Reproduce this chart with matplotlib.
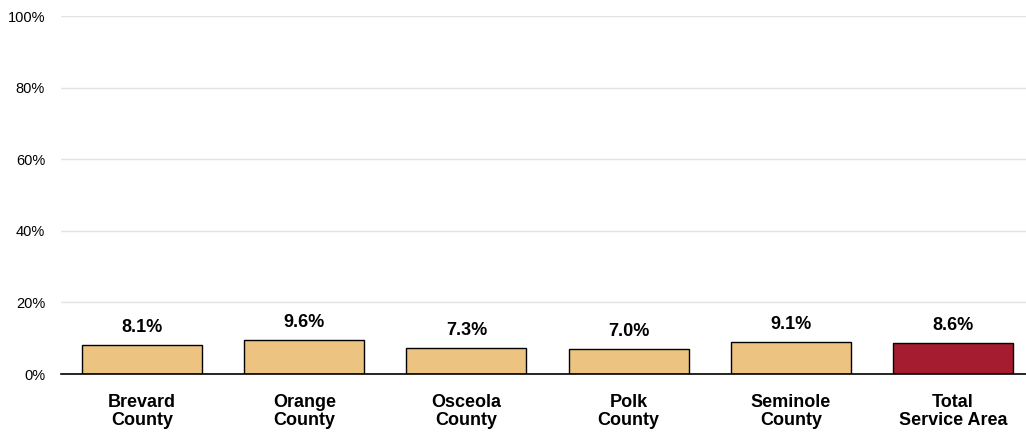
import matplotlib
matplotlib.use("Agg")
import matplotlib.pyplot as plt
from matplotlib.ticker import FuncFormatter

categories = ["Brevard\nCounty", "Orange\nCounty", "Osceola\nCounty", "Polk\nCounty", "Seminole\nCounty", "Total\nService Area"]
values = [8.1, 9.6, 7.3, 7.0, 9.1, 8.6]
value_labels = ["8.1%", "9.6%", "7.3%", "7.0%", "9.1%", "8.6%"]
colors = ["#EDC382"] * 5 + ["#A51C30"]
yticks = [0, 20, 40, 60, 80, 100]

plt.rcParams['font.family'] = ['Liberation Sans', 'DejaVu Sans']

fig = plt.figure(figsize=(10.26, 4.33), dpi=100)
ax = fig.add_axes([0.0595, 0.136, 0.9405, 0.827])

x = list(range(len(categories)))
ax.bar(x, values, width=0.74, color=colors, edgecolor="black", linewidth=1, zorder=3)
for xi, v, lab in zip(x, values, value_labels):
    ax.text(xi, v + 2.5, lab, ha="center", va="bottom", fontsize=13, fontweight="bold")

ax.set_xlim(-0.5, 5.45)
ax.set_ylim(0, 100)
ax.set_yticks(yticks)
ax.yaxis.set_major_formatter(FuncFormatter(lambda v, p: f"{int(v)}%"))
ax.set_xticks(x)
ax.set_xticklabels(categories, fontsize=13, fontweight="bold", linespacing=1.1)
ax.tick_params(axis="both", length=0)
ax.tick_params(axis="x", pad=14)
ax.tick_params(axis="y", labelsize=10.5, pad=11.5)
ax.grid(axis="y", color="#E3E3E3", linewidth=1, zorder=0)
for s in ["top", "right", "left"]:
    ax.spines[s].set_visible(False)
ax.spines["bottom"].set_color("black")
ax.spines["bottom"].set_linewidth(1.2)
ax.spines["bottom"].set_zorder(4)

fig.savefig("out.png", dpi=100)
